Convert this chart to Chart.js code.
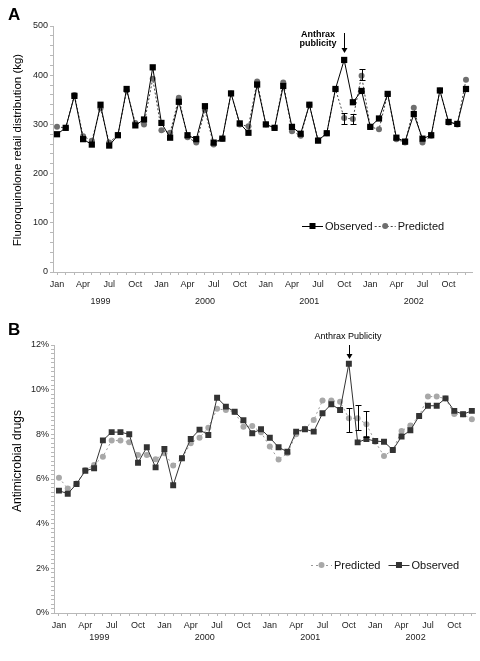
<!DOCTYPE html>
<html>
<head>
<meta charset="utf-8">
<script src="https://cdn.jsdelivr.net/npm/chart.js@4.4.1/dist/chart.umd.min.js"></script>
<style>
  html, body { margin: 0; padding: 0; background: #fff; }
  #wrap { position: relative; width: 480px; height: 661px; }
  canvas { position: absolute; left: 0; }
  #chartA { top: 0; }
  #chartB { top: 315px; }
</style>
</head>
<body>
<div id="wrap">
  <canvas id="chartA" width="480" height="315"></canvas>
  <canvas id="chartB" width="480" height="346"></canvas>
</div>
<script>
// ---- data ----
const monthNames = ["Jan", "Feb", "Mar", "Apr", "May", "Jun", "Jul", "Aug", "Sep", "Oct", "Nov", "Dec"];
const years = ["1999", "2000", "2001", "2002"];

// Panel A: fluoroquinolone retail distribution (kg), Jan 1999 - Dec 2002
const observedA = [
  280, 293, 358, 270, 259, 340, 257, 278, 372, 298, 310, 416,
  303, 273, 346, 278, 270, 337, 263, 271, 363, 302, 283, 381,
  300, 293, 378, 295, 281, 340, 267, 282, 372, 431, 345, 368,
  295, 312, 362, 273, 265, 321, 271, 278, 369, 305, 301, 372
];
const predictedA = [
  295, 293, 360, 276, 267, 333, 263, 279, 369, 303, 300, 393,
  288, 283, 354, 274, 263, 329, 259, 271, 363, 300, 296, 387,
  300, 293, 385, 286, 277, 340, 268, 282, 372, 313, 311, 399,
  295, 290, 362, 270, 263, 334, 263, 277, 369, 304, 300, 391
];
const errMonths = [33, 34, 35]; // Oct, Nov, Dec 2001
const errLowA = [301, 300, 390];
const errHighA = [324, 321, 412];
const yLabelsA = [0, 100, 200, 300, 400, 500];

// Panel B: antimicrobial drugs (%)
const observedB = [
  5.48, 5.34, 5.78, 6.37, 6.48, 7.73, 8.10, 8.10, 8.00, 6.73, 7.42, 6.52,
  7.34, 5.72, 6.93, 7.79, 8.21, 7.97, 9.64, 9.24, 9.01, 8.63, 8.05, 8.23,
  7.85, 7.42, 7.22, 8.12, 8.23, 8.12, 8.94, 9.35, 9.09, 11.16, 7.64, 7.79,
  7.70, 7.67, 7.30, 7.90, 8.18, 8.82, 9.28, 9.28, 9.61, 9.05, 8.90, 9.05
];
const predictedB = [
  6.06, 5.57, 5.80, 6.40, 6.63, 7.00, 7.72, 7.72, 7.64, 7.08, 7.08, 6.88,
  7.15, 6.60, 6.93, 7.60, 7.85, 8.30, 9.14, 9.09, 9.00, 8.34, 8.37, 8.09,
  7.45, 6.87, 7.15, 8.00, 8.25, 8.64, 9.51, 9.51, 9.46, 8.72, 8.72, 8.45,
  7.67, 7.03, 7.30, 8.15, 8.39, 8.82, 9.69, 9.69, 9.60, 8.91, 8.90, 8.67
];
const errLowB = [8.12, 8.20, 7.87];
const errHighB = [9.19, 9.31, 9.05];
const yLabelsB = [0, 2, 4, 6, 8, 10, 12];

const FONT = '"Liberation Sans", Arial, sans-serif';
const AXIS_GRAY = "#b8b8b8";

function toPoints(values) {
  return values.map((v, i) => ({ x: i, y: v }));
}

// draws panel letter, y title, year row, annotation arrow, legend, error bars
const decorPlugin = {
  id: "decor",
  afterDatasetsDraw(chart, args, o) {
    const { ctx, scales: { x, y } } = chart;
    ctx.save();
    ctx.strokeStyle = "#000";
    ctx.lineWidth = 1;
    o.errMonths.forEach((m, i) => {
      const px = Math.round(x.getPixelForValue(m)) + 0.5;
      const y1 = Math.round(y.getPixelForValue(o.errLow[i])) + 0.5;
      const y2 = Math.round(y.getPixelForValue(o.errHigh[i])) + 0.5;
      ctx.beginPath();
      ctx.moveTo(px, y1); ctx.lineTo(px, y2);
      ctx.moveTo(px - 3, y1); ctx.lineTo(px + 3, y1);
      ctx.moveTo(px - 3, y2); ctx.lineTo(px + 3, y2);
      ctx.stroke();
    });
    ctx.restore();
  },
  afterDraw(chart, args, o) {
    const { ctx, scales: { x, y } } = chart;
    ctx.save();

    // panel letter
    ctx.fillStyle = "#000";
    ctx.font = "bold 17px " + FONT;
    ctx.textAlign = "left";
    ctx.textBaseline = "alphabetic";
    ctx.fillText(o.letter, 8, o.letterY);

    // y axis title
    ctx.save();
    ctx.translate(o.titleX, o.titleY);
    ctx.rotate(-Math.PI / 2);
    ctx.font = o.titleSize + "px " + FONT;
    ctx.textAlign = "center";
    ctx.textBaseline = "middle";
    ctx.fillText(o.title, 0, 0);
    ctx.restore();

    // year row
    ctx.font = "9px " + FONT;
    ctx.fillStyle = "#222";
    ctx.textAlign = "center";
    ctx.textBaseline = "middle";
    years.forEach((yr, i) => {
      ctx.fillText(yr, x.getPixelForValue(i * 12 + o.yearOffset), o.yearY);
    });

    // annotation + arrow
    const ax = Math.round(x.getPixelForValue(o.arrowMonth)) + 0.5;
    ctx.fillStyle = "#000";
    ctx.font = o.noteFont;
    ctx.textAlign = "center";
    o.noteLines.forEach((ln, i) => ctx.fillText(ln, o.noteX, o.noteY + i * 8.5));
    ctx.strokeStyle = "#000";
    ctx.lineWidth = 1;
    ctx.beginPath();
    ctx.moveTo(ax, o.arrowTop);
    ctx.lineTo(ax, o.arrowBottom - 4);
    ctx.stroke();
    ctx.beginPath();
    ctx.moveTo(ax - 3, o.arrowBottom - 5);
    ctx.lineTo(ax + 3, o.arrowBottom - 5);
    ctx.lineTo(ax, o.arrowBottom);
    ctx.closePath();
    ctx.fill();

    // legend
    ctx.font = "11px " + FONT;
    ctx.textAlign = "left";
    ctx.textBaseline = "middle";
    let lx = o.legendX;
    const ly = o.legendY;
    o.legendItems.forEach(item => {
      ctx.save();
      ctx.strokeStyle = item.line;
      ctx.lineWidth = 1;
      ctx.setLineDash(item.dash);
      ctx.beginPath();
      ctx.moveTo(lx, ly + 0.5); ctx.lineTo(lx + 21, ly + 0.5);
      ctx.stroke();
      ctx.restore();
      ctx.fillStyle = item.marker;
      if (item.square) {
        ctx.fillRect(lx + 7.5, ly - 3, 6, 6);
      } else {
        ctx.beginPath();
        ctx.arc(lx + 10.5, ly, 3, 0, Math.PI * 2);
        ctx.fill();
      }
      ctx.fillStyle = "#111";
      ctx.fillText(item.label, lx + 23, ly + 1);
      lx += 23 + ctx.measureText(item.label).width + o.legendGap;
    });
    ctx.restore();
  }
};

function monthTicks(scale) {
  const t = [];
  for (let i = 0; i < 48; i++) t.push({ value: i });
  scale.ticks = t;
}

function makeChart(canvasId, cfg) {
  return new Chart(document.getElementById(canvasId), {
    type: "line",
    data: {
      datasets: [
        {
          label: cfg.obsLabel,
          data: toPoints(cfg.observed),
          borderColor: cfg.obsColor,
          backgroundColor: cfg.obsColor,
          borderWidth: 1,
          pointStyle: "rect",
          pointRadius: cfg.obsRadius,
          pointBorderWidth: 0,
          tension: 0
        },
        {
          label: cfg.predLabel,
          data: toPoints(cfg.predicted),
          borderColor: cfg.predLine,
          backgroundColor: cfg.predColor,
          borderWidth: 1,
          borderDash: cfg.predDash,
          pointStyle: "circle",
          pointRadius: 3,
          pointBorderWidth: 0,
          tension: 0
        }
      ]
    },
    options: {
      responsive: false,
      animation: false,
      events: [],
      layout: { padding: { top: cfg.padTop, right: cfg.padRight, left: 0, bottom: 0 } },
      plugins: {
        legend: { display: false },
        tooltip: { enabled: false },
        decor: cfg.decor
      },
      scales: {
        x: {
          type: "linear",
          min: cfg.xMin,
          max: cfg.xMax,
          afterBuildTicks: monthTicks,
          afterFit: s => { s.height = cfg.xHeight; },
          border: { color: AXIS_GRAY, width: 1 },
          grid: { drawOnChartArea: false, color: AXIS_GRAY, tickLength: 3 },
          ticks: {
            autoSkip: false,
            maxRotation: 0,
            padding: 4,
            color: "#222",
            font: { family: FONT, size: 9 },
            callback: v => (v % 3 === 0 ? monthNames[v % 12] : "")
          }
        },
        y: {
          min: 0,
          max: cfg.yMax,
          afterBuildTicks: s => {
            const t = [];
            for (let k = 0; k <= cfg.yMax / cfg.minorStep + 1e-6; k++) t.push({ value: +(k * cfg.minorStep).toFixed(4) });
            s.ticks = t;
          },
          afterFit: s => { s.width = cfg.yWidth; },
          border: { color: AXIS_GRAY, width: 1 },
          grid: { drawOnChartArea: false, color: AXIS_GRAY, tickLength: 3 },
          ticks: {
            autoSkip: false,
            padding: 2,
            color: "#222",
            font: { family: FONT, size: 9 },
            callback: v => {
              const hit = cfg.yLabels.find(l => Math.abs(l - v) < 1e-6);
              return hit === undefined ? "" : hit + cfg.unit;
            }
          }
        }
      }
    },
    plugins: [decorPlugin]
  });
}

makeChart("chartA", {
  observed: observedA, predicted: predictedA,
  obsLabel: "Observed", predLabel: "Predicted",
  obsColor: "#000", predColor: "#6e6e6e", predLine: "#444", predDash: [2, 2],
  obsRadius: 4.4,
  padTop: 26, padRight: 8, xHeight: 43, yWidth: 53,
  xMin: -0.46, xMax: 47.69,
  yMax: 500, minorStep: 20, yLabels: yLabelsA, unit: "",
  decor: {
    letter: "A", letterY: 20,
    title: "Fluoroquinolone retail distribution (kg)", titleX: 18, titleY: 150, titleSize: 11.5,
    yearOffset: 5, yearY: 302,
    arrowMonth: 33, arrowTop: 33, arrowBottom: 53,
    noteLines: ["Anthrax", "publicity"], noteFont: "bold 9px " + FONT, noteX: 318, noteY: 35,
    legendX: 302, legendY: 226, legendGap: 2,
    legendItems: [
      { label: "Observed", line: "#000", marker: "#000", dash: [], square: true },
      { label: "Predicted", line: "#444", marker: "#6e6e6e", dash: [2, 2], square: false }
    ],
    errMonths: errMonths, errLow: errLowA, errHigh: errHighA
  }
});

makeChart("chartB", {
  observed: observedB, predicted: predictedB,
  obsLabel: "Observed", predLabel: "Predicted",
  obsColor: "#333", predColor: "#a8a8a8", predLine: "#999", predDash: [2, 3],
  obsRadius: 4.2,
  padTop: 30, padRight: 1, xHeight: 48, yWidth: 54,
  xMin: -0.565, xMax: 47.45,
  yMax: 12, minorStep: 0.2, yLabels: yLabelsB, unit: "%",
  decor: {
    letter: "B", letterY: 20,
    title: "Antimicrobial drugs", titleX: 18, titleY: 146, titleSize: 12,
    yearOffset: 4.6, yearY: 323,
    arrowMonth: 33, arrowTop: 30, arrowBottom: 44,
    noteLines: ["Anthrax Publicity"], noteFont: "9px " + FONT, noteX: 348, noteY: 22,
    legendX: 311, legendY: 250, legendGap: 8,
    legendItems: [
      { label: "Predicted", line: "#999", marker: "#a8a8a8", dash: [2, 3], square: false },
      { label: "Observed", line: "#333", marker: "#333", dash: [], square: true }
    ],
    errMonths: errMonths, errLow: errLowB, errHigh: errHighB
  }
});
</script>
</body>
</html>
